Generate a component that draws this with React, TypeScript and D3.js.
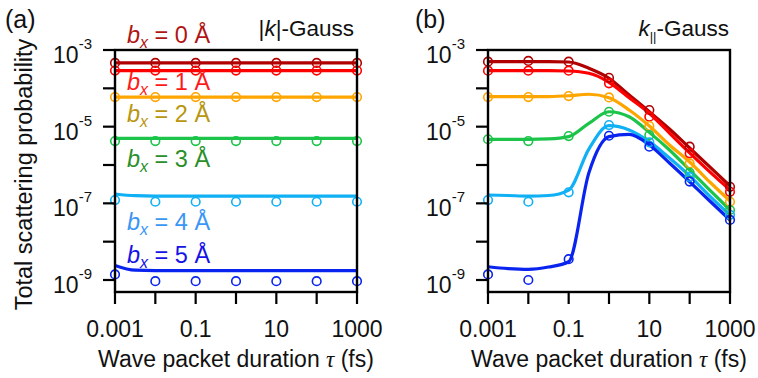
import * as d3 from 'd3';
import React from 'react';

// pulse duration (fs) at every decade, where the circles sit
const tauPoints = [0.001, 0.01, 0.1, 1, 10, 100, 1000];
// half-decade grid used for the fitted curves
const tauCurve = [0.001, 0.00316, 0.01, 0.0316, 0.1, 0.316, 1, 3.16, 10, 31.6, 100, 316, 1000];

const xLabelTicks = [0.001, 0.1, 10, 1000];
const xLabelText = ['0.001', '0.1', '10', '1000'];
const yTicks = [1e-3, 1e-4, 1e-5, 1e-6, 1e-7, 1e-8, 1e-9];
const yLabelTicks = [1e-3, 1e-5, 1e-7, 1e-9];
const yLabelExp = ['-3', '-5', '-7', '-9'];

const bValues = ['0', '1', '2', '3', '4', '5'];

// (a) |k|-Gauss
const curveA = [
    [4.6e-4, 4.6e-4, 4.6e-4, 4.6e-4, 4.6e-4, 4.6e-4, 4.6e-4, 4.6e-4, 4.6e-4, 4.6e-4, 4.6e-4, 4.6e-4, 4.6e-4],
    [2.9e-4, 2.9e-4, 2.9e-4, 2.9e-4, 2.9e-4, 2.9e-4, 2.9e-4, 2.9e-4, 2.9e-4, 2.9e-4, 2.9e-4, 2.9e-4, 2.9e-4],
    [5.9e-5, 5.9e-5, 5.9e-5, 5.9e-5, 5.9e-5, 5.9e-5, 5.9e-5, 5.9e-5, 5.9e-5, 5.9e-5, 5.9e-5, 5.9e-5, 5.9e-5],
    [4.95e-6, 4.95e-6, 4.95e-6, 4.95e-6, 4.95e-6, 4.95e-6, 4.95e-6, 4.95e-6, 4.95e-6, 4.95e-6, 4.95e-6, 4.95e-6, 4.95e-6],
    [1.75e-7, 1.58e-7, 1.55e-7, 1.55e-7, 1.55e-7, 1.55e-7, 1.55e-7, 1.55e-7, 1.55e-7, 1.55e-7, 1.55e-7, 1.55e-7, 1.55e-7],
    [2.4e-9, 1.8e-9, 1.75e-9, 1.75e-9, 1.75e-9, 1.75e-9, 1.75e-9, 1.75e-9, 1.75e-9, 1.75e-9, 1.75e-9, 1.75e-9, 1.75e-9],
];
const pointsA = [
    [4.6e-4, 4.6e-4, 4.6e-4, 4.6e-4, 4.6e-4, 4.6e-4, 4.6e-4],
    [2.9e-4, 2.9e-4, 2.9e-4, 2.9e-4, 2.9e-4, 2.9e-4, 2.9e-4],
    [5.9e-5, 5.9e-5, 5.9e-5, 5.9e-5, 5.9e-5, 5.9e-5, 5.9e-5],
    [4.2e-6, 4.2e-6, 4.2e-6, 4.2e-6, 4.2e-6, 4.2e-6, 4.2e-6],
    [1.22e-7, 1.1e-7, 1.1e-7, 1.1e-7, 1.1e-7, 1.1e-7, 1.1e-7],
    [1.4e-9, 9.3e-10, 9.3e-10, 9.3e-10, 9.3e-10, 9.3e-10, 9.3e-10],
];

// (b) k||-Gauss
const curveB = [
    [4.95e-4, 4.95e-4, 4.95e-4, 4.95e-4, 4.86e-4, 3.33e-4, 1.83e-4, 6.7e-5, 2.45e-5, 8.7e-6, 2.77e-6, 8.9e-7, 2.83e-7],
    [2.88e-4, 2.88e-4, 2.88e-4, 2.88e-4, 2.83e-4, 2.47e-4, 1.44e-4, 5.7e-5, 2.23e-5, 6.8e-6, 2.06e-6, 6.6e-7, 2.23e-7],
    [6.05e-5, 6.05e-5, 6.05e-5, 6.1e-5, 6.4e-5, 7.0e-5, 5.7e-5, 2.72e-5, 1.04e-5, 3.33e-6, 1.2e-6, 3.6e-7, 1.15e-7],
    [4.68e-6, 4.68e-6, 4.68e-6, 4.8e-6, 5.5e-6, 1.22e-5, 2.45e-5, 1.82e-5, 7.1e-6, 2.46e-6, 7.4e-7, 2.22e-7, 6.7e-8],
    [1.65e-7, 1.6e-7, 1.55e-7, 1.6e-7, 2.22e-7, 2.61e-6, 1.06e-5, 8.2e-6, 4.06e-6, 1.52e-6, 5.2e-7, 1.55e-7, 4.95e-8],
    [2.22e-9, 1.99e-9, 1.9e-9, 2.18e-9, 3.0e-9, 6.2e-7, 5.5e-6, 6.3e-6, 3.33e-6, 1.13e-6, 3.66e-7, 1.15e-7, 3.67e-8],
];
const pointsB = [
    [4.95e-4, 5.2e-4, 4.95e-4, 1.89e-4, 2.72e-5, 3.0e-6, 2.7e-7],
    [2.88e-4, 2.88e-4, 2.88e-4, 1.35e-4, 1.82e-5, 2.02e-6, 2.0e-7],
    [5.9e-5, 5.9e-5, 6.3e-5, 5.8e-5, 1.04e-5, 1.1e-6, 1.1e-7],
    [4.7e-6, 4.2e-6, 5.7e-6, 2.45e-5, 6.05e-6, 6.3e-7, 6.7e-8],
    [1.22e-7, 1.1e-7, 1.94e-7, 1.1e-5, 3.9e-6, 4.9e-7, 5.0e-8],
    [1.4e-9, 1.0e-9, 3.5e-9, 5.8e-6, 3.0e-6, 3.7e-7, 3.7e-8],
];

const lineColors = ['#b00000', '#ff0000', '#ffa500', '#1cc44a', '#10b0f5', '#0a24f0'];
const labelColors = ['#b01515', '#ff1a1a', '#b8960f', '#2a8f2a', '#3a96f5', '#1414e6'];
const labelBaselines = [43, 90, 121.5, 166.5, 230, 263];

const FONT = 'Liberation Sans, Arial, sans-serif';

const top = 50;
const bottom = 292;

const yScale = d3.scaleLog()
    .domain([Math.pow(10, -9.313), 1e-3])
    .range([bottom, top]);

function Panel(props: { x0: number; x1: number; curves: number[][]; points: number[][] }) {
    const { x0, x1, curves, points } = props;
    const xScale = d3.scaleLog().domain([0.001, 1000]).range([x0, x1]);

    const line = d3.line<number>()
        .x((d, i) => xScale(tauCurve[i]))
        .y((d) => yScale(d))
        .curve(d3.curveMonotoneX);

    return (
        <g>
            {/* curves */}
            {curves.map((c, k) => (
                <path key={'c' + k} d={line(c) || ''} fill="none" stroke={lineColors[k]} strokeWidth={3.2} />
            ))}
            {/* simulation points */}
            {points.map((p, k) =>
                p.map((v, i) => (
                    <circle key={'p' + k + '-' + i} cx={xScale(tauPoints[i])} cy={yScale(v)} r={4.3}
                        fill="none" stroke={lineColors[k]} strokeWidth={1.6} />
                ))
            )}
            {/* frame */}
            <rect x={x0} y={top} width={x1 - x0} height={bottom - top} fill="none" stroke="#000" strokeWidth={2.4} />
            {/* y ticks */}
            {yTicks.map((t) => (
                <line key={'yt' + t} x1={x0 - 12} x2={x0} y1={yScale(t)} y2={yScale(t)} stroke="#000" strokeWidth={2.2} />
            ))}
            {yLabelTicks.map((t, i) => (
                <text key={'yl' + t} x={x0 - 23} y={yScale(t) + 13} textAnchor="end" fontSize={23} fontFamily={FONT} fill="#111">
                    10<tspan fontSize={15} dy={-14}>{yLabelExp[i]}</tspan>
                </text>
            ))}
            {/* x ticks */}
            {tauPoints.map((t) => (
                <line key={'xt' + t} x1={xScale(t)} x2={xScale(t)} y1={bottom} y2={bottom + 12} stroke="#000" strokeWidth={2.2} />
            ))}
            {xLabelTicks.map((t, i) => (
                <text key={'xl' + t} x={xScale(t)} y={337} textAnchor="middle" fontSize={23} fontFamily={FONT} fill="#111">
                    {xLabelText[i]}
                </text>
            ))}
            <text x={(x0 + x1) / 2} y={367} textAnchor="middle" fontSize={23} fontFamily={FONT} fill="#111">
                Wave packet duration <tspan fontFamily="Liberation Serif, Times New Roman, serif" fontStyle="italic">τ</tspan> (fs)
            </text>
        </g>
    );
}

export default function App() {
    return (
        <div>
            <style>{'body{margin:0}'}</style>
            <svg width={758} height={378} style={{ display: 'block', background: '#fff' }}>
                <Panel x0={115} x1={357} curves={curveA} points={pointsA} />
                <Panel x0={488} x1={730} curves={curveB} points={pointsB} />

                <text transform="translate(32,174.5) rotate(-90)" textAnchor="middle" fontSize={23.5} fontFamily={FONT} fill="#111">
                    Total scattering probability
                </text>

                <text x={5} y={28} fontSize={25} fontFamily={FONT} fill="#111">(a)</text>
                <text x={415} y={28} fontSize={25} fontFamily={FONT} fill="#111">(b)</text>

                <text x={354} y={36} textAnchor="end" fontSize={22.5} fontFamily={FONT} fill="#111">
                    |<tspan fontStyle="italic">k</tspan>|-Gauss
                </text>
                <text x={729} y={36} textAnchor="end" fontSize={22.5} fontFamily={FONT} fill="#111">
                    <tspan fontStyle="italic">k</tspan><tspan fontSize={13} dy={5}>||</tspan><tspan dy={-5}>-Gauss</tspan>
                </text>

                {bValues.map((b, k) => (
                    <text key={'lg' + k} x={127} y={labelBaselines[k]} fontSize={23.5} fontFamily={FONT} fill={labelColors[k]}>
                        <tspan fontStyle="italic">b</tspan>
                        <tspan fontStyle="italic" fontSize={16} dy={5}>x</tspan>
                        <tspan dy={-5}>{' = ' + b + ' Å'}</tspan>
                    </text>
                ))}
            </svg>
        </div>
    );
}
